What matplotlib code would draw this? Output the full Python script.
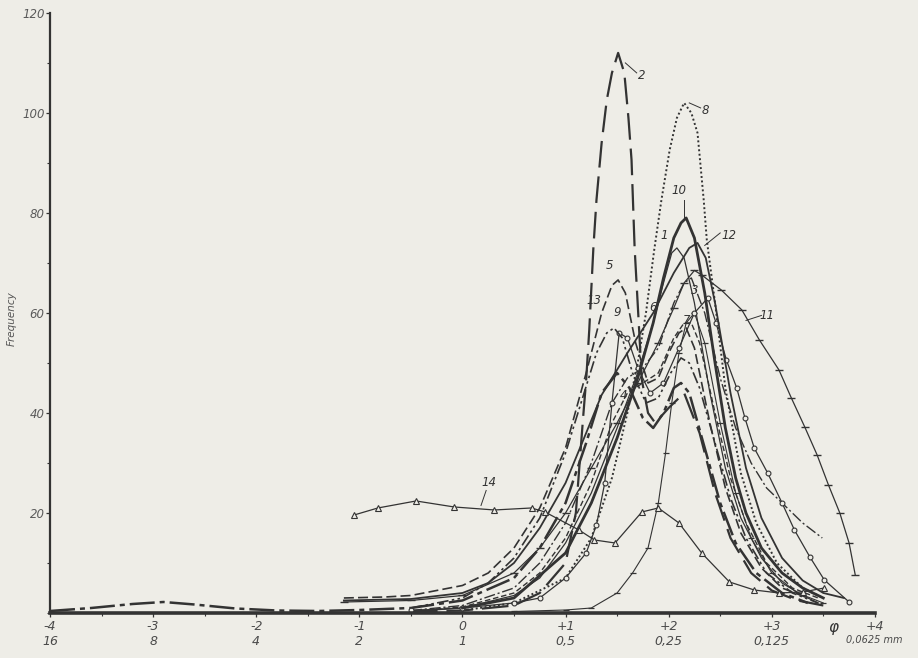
import matplotlib
matplotlib.use('Agg')
import matplotlib.pyplot as plt
from matplotlib.ticker import MultipleLocator

# Grain size frequency curves (phi scale)
phi_1 = [-0.5, 0.0, 0.5, 0.75, 1.0, 1.25, 1.5, 1.7, 1.85, 1.95, 2.03, 2.08, 2.15, 2.25, 2.4, 2.55, 2.7, 2.9, 3.1, 3.3, 3.45]
freq_1 = [0.3, 1.0, 3.5, 7, 14, 24, 37, 48, 58, 66, 72, 73, 71, 62, 44, 29, 19, 11, 6, 3.5, 2]

phi_2 = [-0.5, 0.0, 0.5, 0.75, 1.0, 1.1, 1.17, 1.2, 1.23, 1.27, 1.3, 1.35, 1.4, 1.45, 1.51, 1.57, 1.61, 1.64, 1.67,
         1.71, 1.74, 1.8, 1.87, 2.0, 2.15, 2.3, 2.45, 2.6, 2.8, 3.0, 3.25, 3.5]
freq_2 = [0.3, 0.5, 1.5, 4, 10, 20, 39, 46.6, 56.6, 73, 82.6, 94, 102.6, 108, 112, 108, 99, 90.6, 73,
          58, 46.6, 40, 38, 41, 44, 36, 24, 15, 8, 4.5, 2.5, 1.5]

phi_3 = [-0.5, 0.0, 0.5, 0.75, 1.0, 1.25, 1.45, 1.6, 1.75, 1.9, 2.05, 2.15, 2.22, 2.35, 2.5, 2.65, 2.8, 2.95, 3.1, 3.3, 3.49]
freq_3 = [0.5, 1.5, 5, 10, 18, 30, 42, 47, 49, 53, 62, 66, 67, 60, 47, 37, 30, 25, 22, 18, 15]

phi_4 = [-4.0, -3.6, -3.2, -2.9, -2.6, -2.2, -1.8, -1.4, -1.0, -0.5, 0.0, 0.5, 0.75, 1.0, 1.2, 1.35, 1.5, 1.62,
         1.75, 1.85, 1.95, 2.05, 2.12, 2.2, 2.35, 2.5, 2.65, 2.85, 3.1, 3.35]
freq_4 = [0.4, 1.0, 1.8, 2.2, 1.7, 0.9, 0.5, 0.4, 0.6, 1.0, 2.5, 7, 13, 22, 34, 44, 48, 45,
          39, 37, 40, 45, 46, 44, 33, 22, 14, 8, 4, 2]

phi_5 = [-1.15, -0.75, -0.5, 0.0, 0.25, 0.5, 0.75, 1.0, 1.2, 1.35, 1.45, 1.51, 1.58, 1.68, 1.8, 1.9, 2.0, 2.1,
         2.17, 2.25, 2.4, 2.55, 2.7, 2.9, 3.1, 3.35]
freq_5 = [3, 3.2, 3.5, 5.5, 8, 13, 21, 33, 48, 60, 65.5, 66.6, 64, 54, 46, 47, 52, 56,
          57, 53, 38, 25, 16, 9, 5, 3]

phi_6 = [0.5, 1.0, 1.25, 1.5, 1.65, 1.8, 1.9, 1.97, 2.03, 2.1, 2.17, 2.25, 2.35, 2.5, 2.65, 2.8, 3.0, 3.25, 3.5]
freq_6 = [0.3, 0.6, 1, 4, 8, 13, 22, 32, 42, 52, 58, 60, 54, 38, 24, 15, 8, 4, 2]

phi_7 = [-0.5, 0.0, 0.5, 0.75, 1.0, 1.25, 1.45, 1.6, 1.75, 1.9, 2.05, 2.15, 2.22, 2.3, 2.45, 2.6, 2.75, 2.95, 3.2, 3.45]
freq_7 = [0.4, 1.2, 4, 8, 15, 26, 38, 44, 46, 48, 55, 58, 58, 54, 40, 27, 18, 10, 5, 3]

phi_8 = [0.0, 0.5, 1.0, 1.25, 1.45, 1.6, 1.7, 1.78, 1.86, 1.93, 2.01, 2.08, 2.15, 2.22, 2.28, 2.34, 2.37,
         2.45, 2.55, 2.7, 2.85, 3.05, 3.3, 3.5]
freq_8 = [0.5, 2, 7, 15, 27, 40, 50, 60, 72.6, 82.6, 92.6, 99, 102, 100, 96, 82.6, 74.6,
          62, 45, 28, 18, 10, 5, 3]

phi_9 = [-0.5, 0.0, 0.5, 0.75, 1.0, 1.2, 1.3, 1.38, 1.45, 1.52, 1.6, 1.7, 1.82, 1.95, 2.1, 2.25, 2.38, 2.46,
         2.56, 2.66, 2.74, 2.83, 2.96, 3.1, 3.22, 3.37, 3.51, 3.75]
freq_9 = [0.5, 1.0, 2, 3, 7, 12, 17.6, 26, 42, 56, 55, 49, 44, 46, 53, 60, 63, 58,
          50.6, 45, 39, 33, 28, 22, 16.6, 11.2, 6.6, 2.2]

phi_10 = [0.0, 0.5, 1.0, 1.25, 1.5, 1.7, 1.85, 1.95, 2.05, 2.12, 2.17, 2.25, 2.35, 2.45, 2.55, 2.65, 2.75, 2.9, 3.1, 3.3, 3.5]
freq_10 = [1, 3, 12, 22, 35, 47, 58, 67, 75, 78, 79, 75, 64, 50, 37, 27, 20, 13, 8, 5, 3]

phi_11 = [-1.15, -0.5, 0.0, 0.5, 0.75, 1.0, 1.25, 1.5, 1.7, 1.9, 2.05, 2.15, 2.25, 2.32, 2.51, 2.71, 2.88, 3.07,
          3.19, 3.32, 3.44, 3.55, 3.66, 3.75, 3.81]
freq_11 = [2.2, 2.5, 3.5, 8, 13, 20, 29, 38, 46, 54, 61, 66, 68.5, 67.6, 64.6, 60.6, 54.6, 48.6,
           43, 37.2, 31.6, 25.6, 20, 14, 7.6]

phi_12 = [-1.15, -0.5, 0.0, 0.25, 0.5, 0.75, 1.0, 1.2, 1.35, 1.6, 1.85, 2.05, 2.2, 2.28, 2.36, 2.45, 2.6, 2.75,
          2.9, 3.1, 3.3, 3.5, 3.7]
freq_12 = [2.5, 2.8, 4, 6, 10, 17, 26, 36, 43.6, 52, 60, 68, 73, 74, 71, 62, 44, 29, 19, 11, 6.5, 4, 3]

phi_13 = [-0.5, 0.0, 0.25, 0.5, 0.75, 1.0, 1.15, 1.3, 1.4, 1.47, 1.55, 1.65, 1.78, 1.9, 2.02, 2.12, 2.2, 2.3,
          2.45, 2.6, 2.75, 2.95, 3.2, 3.45]
freq_13 = [1, 3, 6, 11, 19, 32, 42, 52, 56, 57, 55, 48, 42, 43, 48, 51, 50, 45, 34, 23, 15, 8, 4, 2]

phi_14 = [-1.05, -0.82, -0.45, -0.08, 0.31, 0.67, 0.8, 1.13, 1.28, 1.48, 1.74, 1.9, 2.1, 2.32, 2.59, 2.83, 3.07, 3.3, 3.51]
freq_14 = [19.6, 21, 22.4, 21.2, 20.6, 21, 20.2, 16.6, 14.6, 14, 20.2, 21, 18, 12, 6.2, 4.6, 4, 4.2, 5]

x_ticks = [-4, -3, -2, -1, 0, 1, 2, 3, 4]
x_phi_labels = ['-4', '-3', '-2', '-1', '0', '+1', '+2', '+3', '+4']
x_mm_labels = ['16', '8', '4', '2', '1', '0,5', '0,25', '0,125', '0,0625 mm']
y_ticks = [20, 40, 60, 80, 100, 120]

# curve label text positions (phi, freq)
label_names = ['1', '2', '3', '4', '5', '6', '7', '8', '9', '10', '11', '12', '13', '14']
label_x = [1.96, 1.74, 2.25, 1.56, 1.43, 1.85, 2.17, 2.36, 1.5, 2.1, 2.95, 2.58, 1.28, 0.26]
label_y = [75.5, 107.5, 64.5, 43.5, 69.5, 61, 58.5, 100.5, 60, 84.5, 59.5, 75.5, 62.5, 26]

INK = '#333333'
PAPER = '#eeede7'
TXT = '#4a4a4a'

fig = plt.figure(figsize=(9.18, 6.58), dpi=100, facecolor=PAPER)
ax = fig.add_axes([0.0545, 0.0684, 0.8985, 0.912])
ax.set_facecolor(PAPER)

ax.plot(phi_1, freq_1, color=INK, lw=0.9)
ax.plot(phi_2, freq_2, color=INK, lw=1.6, dashes=(12, 4))
ax.plot(phi_3, freq_3, color=INK, lw=1.0, dashes=(8, 2, 1.5, 2))
ax.plot(phi_4, freq_4, color=INK, lw=1.8, dashes=(10, 2, 2, 2))
ax.plot(phi_5, freq_5, color=INK, lw=1.2, dashes=(6, 2.5))
ax.plot(phi_6, freq_6, color=INK, lw=0.8, marker='_', ms=5, mew=0.9)
ax.plot(phi_7, freq_7, color=INK, lw=1.0, dashes=(4, 2))
ax.plot(phi_8, freq_8, color=INK, lw=1.4, dashes=(1, 1.3))
ax.plot(phi_9, freq_9, color=INK, lw=0.9, marker='o', ms=3.5, mfc=PAPER, mew=0.8)
ax.plot(phi_10, freq_10, color=INK, lw=2.0)
ax.plot(phi_11, freq_11, color=INK, lw=0.9, marker='_', ms=6, mew=1.0)
ax.plot(phi_12, freq_12, color=INK, lw=1.3)
ax.plot(phi_13, freq_13, color=INK, lw=1.2, dashes=(7, 2, 1.5, 2, 1.5, 2))
ax.plot(phi_14, freq_14, color=INK, lw=0.9, marker='^', ms=4, mfc=PAPER, mew=0.8)

for name, lx, ly in zip(label_names, label_x, label_y):
    ax.text(lx, ly, name, fontsize=8.5, style='italic', color=INK, ha='center', va='center')

# short leader lines from labels to curves
ax.plot([1.58, 1.69], [110, 108], color=INK, lw=0.7)
ax.plot([2.2, 2.31], [102, 101], color=INK, lw=0.7)
ax.plot([2.15, 2.15], [82.5, 79], color=INK, lw=0.7)
ax.plot([2.35, 2.5], [73.5, 76], color=INK, lw=0.7)
ax.plot([2.75, 2.9], [58.5, 59.5], color=INK, lw=0.7)
ax.plot([0.18, 0.23], [21.5, 24.5], color=INK, lw=0.7)

ax.set_xlim(-4, 4)
ax.set_ylim(0, 120)
ax.spines['top'].set_visible(False)
ax.spines['right'].set_visible(False)
ax.spines['left'].set_linewidth(1.6)
ax.spines['bottom'].set_linewidth(2.6)
ax.spines['left'].set_color(INK)
ax.spines['bottom'].set_color(INK)

ax.set_yticks(y_ticks)
ax.yaxis.set_minor_locator(MultipleLocator(10))
ax.set_xticks(x_ticks)
ax.set_xticklabels([])
ax.xaxis.set_minor_locator(MultipleLocator(0.5))
ax.tick_params(axis='both', which='major', length=3, width=0.9, color=INK, direction='out')
ax.tick_params(axis='both', which='minor', length=2, width=0.8, color=INK, direction='out')
ax.tick_params(axis='y', labelsize=8.5, labelcolor='#5a5a5a', pad=1)
for t in ax.get_yticklabels():
    t.set_style('italic')

# two-row x labels: phi units above, millimetres below
xt = ax.get_xaxis_transform()
for xv, top, bot in zip(x_ticks, x_phi_labels, x_mm_labels):
    ax.text(xv, -0.012, top, transform=xt, fontsize=9, style='italic', color=TXT, ha='center', va='top')
    if xv == 4:
        ax.text(xv - 0.28, -0.037, bot, transform=xt, fontsize=7, style='italic', color=TXT, ha='left', va='top')
    else:
        ax.text(xv, -0.037, bot, transform=xt, fontsize=9, style='italic', color=TXT, ha='center', va='top')
ax.text(3.6, -0.012, 'φ', transform=xt, fontsize=11, style='italic', color=INK, ha='center', va='top')

ax.set_ylabel('Frequency', fontsize=7.5, style='italic', color='#555555')
ax.yaxis.set_label_coords(-0.04, 0.49)

fig.savefig('out.png', dpi=100, facecolor=PAPER)
